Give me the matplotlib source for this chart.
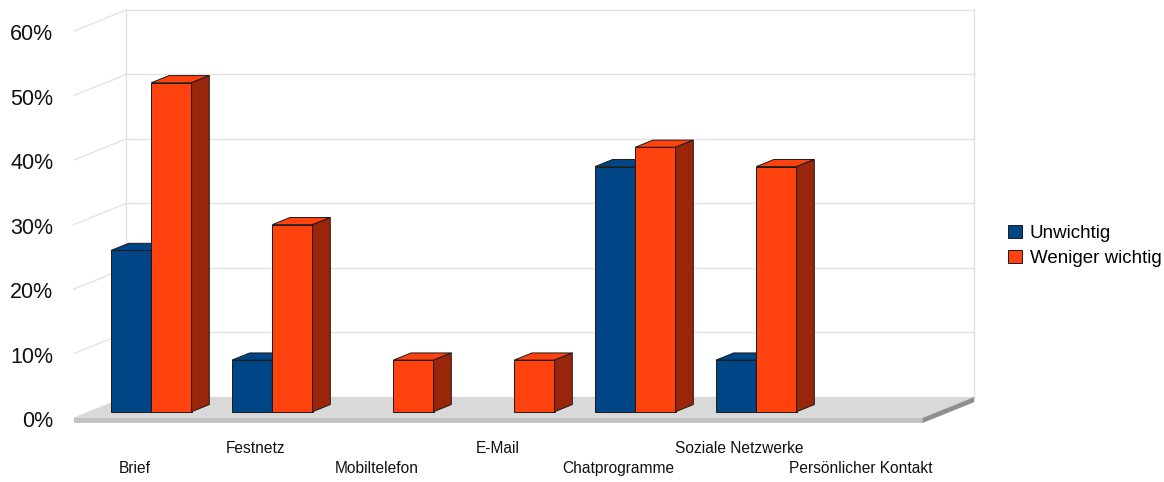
import numpy as np
import matplotlib.pyplot as plt
from matplotlib.patches import Polygon, Patch

plt.rcParams['font.family'] = ['Liberation Sans', 'DejaVu Sans']

# data
categories = ['Brief', 'Festnetz', 'Mobiltelefon', 'E-Mail', 'Chatprogramme',
              'Soziale Netzwerke', 'Persönlicher Kontakt']
unwichtig = [25, 8, 0, 0, 38, 8, 0]
weniger_wichtig = [51, 29, 8, 8, 41, 38, 0]
series_names = ['Unwichtig', 'Weniger wichtig']
yticks = [0, 10, 20, 30, 40, 50, 60]

# style
front_cols = ['#004586', '#ff420e']
side_cols = ['#002a52', '#99260a']
edge = '#1a1a1a'
grid_col = '#e3e3e3'

# pseudo 3d geometry (depth 0 = front of floor, 1 = back wall)
DX, DY = 0.43, 3.26      # shift for full depth in data units
D0, BD = 0.3, 0.34       # bar front depth, bar depth
W = 0.333                # bar width
XMIN, XMAX = -0.51, 6.5  # floor extent
T = 0.8                  # floor thickness


def proj(x, v, d):
    return x + (d - D0) * DX, v + (d - D0) * DY


fig = plt.figure(figsize=(11.64, 4.82), dpi=100)
ax = fig.add_axes([0, 0, 1, 1])
ax.set_xlim(-1.2504, 8.369)
ax.set_ylim(-10.90, 63.83)
ax.axis('off')

# back wall and left wall
for v in yticks:
    (x1, y1), (x2, y2) = proj(XMIN, v, 1), proj(XMAX, v, 1)
    ax.plot([x1, x2], [y1, y2], color=grid_col, lw=1, zorder=1)
    (x0, y0) = proj(XMIN, v, 0)
    ax.plot([x0, x1], [y0, y1], color=grid_col, lw=1, zorder=1)
for xe in (XMIN, XMAX):
    (x1, y1), (x2, y2) = proj(xe, 0, 1), proj(xe, yticks[-1], 1)
    ax.plot([x1, x2], [y1, y2], color=grid_col, lw=1, zorder=1)

# floor
floor_top = [proj(XMIN, 0, 0), proj(XMAX, 0, 0), proj(XMAX, 0, 1), proj(XMIN, 0, 1)]
ax.add_patch(Polygon(floor_top, closed=True, fc='#d9d9d9', ec='none', zorder=2))
floor_front = [proj(XMIN, 0, 0), proj(XMAX, 0, 0), proj(XMAX, -T, 0), proj(XMIN, -T, 0)]
ax.add_patch(Polygon(floor_front, closed=True, fc='#c3c3c3', ec='none', zorder=2))
floor_side = [proj(XMAX, 0, 0), proj(XMAX, 0, 1), proj(XMAX, -T, 1), proj(XMAX, -T, 0)]
ax.add_patch(Polygon(floor_side, closed=True, fc='#8f8f8f', ec='none', zorder=2))

# bars
x = np.arange(len(categories))
for s, vals in enumerate([unwichtig, weniger_wichtig]):
    vals = np.array(vals, dtype=float)
    lefts = x - W + s * W
    mask = vals > 0
    ax.bar(lefts[mask] + W / 2, vals[mask], width=W, color=front_cols[s],
           edgecolor=edge, linewidth=0.7, zorder=3 + s)
    for xl, v in zip(lefts[mask], vals[mask]):
        xr = xl + W
        top = [(xl, v), (xr, v), proj(xr, v, D0 + BD), proj(xl, v, D0 + BD)]
        side = [(xr, 0), (xr, v), proj(xr, v, D0 + BD), proj(xr, 0, D0 + BD)]
        ax.add_patch(Polygon(top, closed=True, fc=front_cols[s], ec=edge,
                             lw=0.7, zorder=3 + s))
        ax.add_patch(Polygon(side, closed=True, fc=side_cols[s], ec=edge,
                             lw=0.7, zorder=3 + s))

# y tick labels on the front of the left wall
for v in yticks:
    px, py = proj(XMIN, v, 0)
    ax.text(px - 0.17, py - 0.6, f'{v}%', ha='right', va='center', fontsize=15.5,
            color='#111111')

# staggered category labels
for i, name in enumerate(categories):
    ly = -8.88 if i % 2 == 0 else -5.78
    ax.text(i - 0.14, ly, name, ha='center', va='center', fontsize=11.2,
            color='#111111')

handles = [Patch(fc=front_cols[0], ec=edge, lw=0.7),
           Patch(fc=front_cols[1], ec=edge, lw=0.7)]
fig.legend(handles, series_names, loc='center left',
           bbox_to_anchor=(1008 / 1164, 1 - 246 / 482), frameon=False,
           fontsize=13.5, handlelength=0.72, handleheight=0.72,
           handletextpad=0.45, labelspacing=0.4, borderpad=0, borderaxespad=0)

fig.savefig('out.png', dpi=100)
